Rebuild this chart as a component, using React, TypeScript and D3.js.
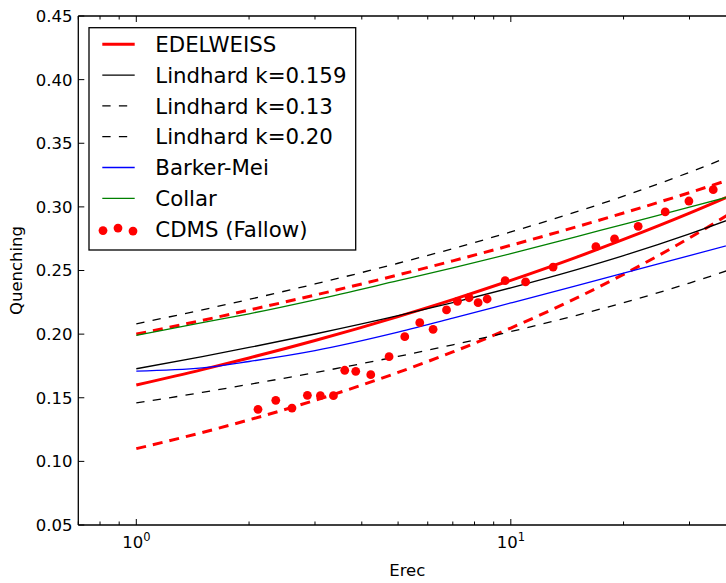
import React from "react";
import * as d3 from "d3";

// ---------- data ----------
const energies = [1, 1.5, 2, 3, 5, 7, 10, 15, 20, 30, 40];
const edelweiss = [0.16, 0.1721, 0.1813, 0.195, 0.2138, 0.2271, 0.2422, 0.2605, 0.2744, 0.2951, 0.3108];
const edelweissUpper = [0.2, 0.2108, 0.2189, 0.2307, 0.2465, 0.2576, 0.2698, 0.2844, 0.2952, 0.3112, 0.3231];
const edelweissLower = [0.11, 0.1227, 0.1326, 0.148, 0.1699, 0.186, 0.2048, 0.2285, 0.247, 0.2756, 0.2978];
const lindhard159 = [0.1728, 0.1823, 0.1895, 0.2001, 0.2145, 0.2248, 0.2364, 0.2507, 0.2617, 0.2788, 0.2921];
const lindhard13 = [0.1459, 0.1542, 0.1605, 0.1698, 0.1825, 0.1916, 0.202, 0.2148, 0.2247, 0.2401, 0.2523];
const lindhard20 = [0.2081, 0.2191, 0.2273, 0.2394, 0.2557, 0.2672, 0.2803, 0.2962, 0.3084, 0.3272, 0.3417];
const barkerMei = [0.171, 0.1735, 0.1785, 0.187, 0.2015, 0.2125, 0.2245, 0.2382, 0.248, 0.2617, 0.2715];
const collar = [0.199, 0.209, 0.216, 0.227, 0.242, 0.252, 0.2632, 0.2767, 0.2863, 0.2998, 0.3095];

const cdmsE = [2.113, 2.357, 2.604, 2.863, 3.101, 3.36, 3.602, 3.854, 4.227, 4.73, 5.21, 5.713, 6.201, 6.734, 7.203, 7.737, 8.178, 8.645, 9.656, 10.95, 12.97, 16.87, 18.92, 21.88, 25.84, 29.89, 34.71];
const cdmsQ = [0.1409, 0.148, 0.1419, 0.1519, 0.1516, 0.1516, 0.1716, 0.1708, 0.1681, 0.1823, 0.198, 0.209, 0.2038, 0.219, 0.2258, 0.2286, 0.2247, 0.2276, 0.242, 0.241, 0.2527, 0.2687, 0.2748, 0.2847, 0.296, 0.3046, 0.3135];

const yTicks = [0.05, 0.1, 0.15, 0.2, 0.25, 0.3, 0.35, 0.4, 0.45];
const xMajor = [1, 10];
const xMinor = [0.7, 0.8, 0.9, 2, 3, 4, 5, 6, 7, 8, 9, 20, 30, 40];
const legendLabels = ["EDELWEISS", "Lindhard k=0.159", "Lindhard k=0.13", "Lindhard k=0.20", "Barker-Mei", "Collar", "CDMS (Fallow)"];

// ---------- layout ----------
const W = 726;
const H = 583;
const left = 78.3;
const right = 736.3;
const top = 16;
const bottom = 525;
const font = "'DejaVu Sans', sans-serif";

export default function App() {
  const x = d3.scaleLog().domain([0.7, 40]).range([left, right]);
  const y = d3.scaleLinear().domain([0.05, 0.45]).range([bottom, top]);
  const line = d3
    .line<[number, number]>()
    .x((d) => x(d[0]))
    .y((d) => y(d[1]))
    .curve(d3.curveMonotoneX);
  const path = (vals: number[]) => line(energies.map((e, i) => [e, vals[i]] as [number, number])) || "";

  const series = [
    { vals: edelweiss, color: "#ff0000", w: 3, dash: "" },
    { vals: edelweissUpper, color: "#ff0000", w: 3, dash: "10,7" },
    { vals: edelweissLower, color: "#ff0000", w: 3, dash: "10,7" },
    { vals: lindhard159, color: "#000000", w: 1.3, dash: "" },
    { vals: lindhard13, color: "#000000", w: 1.3, dash: "8.3,8.3" },
    { vals: lindhard20, color: "#000000", w: 1.3, dash: "8.3,8.3" },
    { vals: barkerMei, color: "#0000ff", w: 1.3, dash: "" },
    { vals: collar, color: "#008000", w: 1.3, dash: "" },
  ];

  const legendStyles = [
    { color: "#ff0000", w: 3, dash: "" },
    { color: "#000000", w: 1.3, dash: "" },
    { color: "#000000", w: 1.3, dash: "8.3,8.3" },
    { color: "#000000", w: 1.3, dash: "8.3,8.3" },
    { color: "#0000ff", w: 1.3, dash: "" },
    { color: "#008000", w: 1.3, dash: "" },
  ];
  const legRowY = (i: number) => 44.3 + i * 30.8;
  const legDotOffsets = [1.5, -1, 2];

  return (
    <svg
      width={W}
      height={H}
      style={{ position: "absolute", left: 0, top: 0, background: "#fff" }}
      fontFamily={font}
    >
      <defs>
        <clipPath id="plotclip">
          <rect x={left} y={top} width={right - left} height={bottom - top} />
        </clipPath>
      </defs>
      <rect x={0} y={0} width={W} height={H} fill="#fff" />

      <g clipPath="url(#plotclip)">
        {series.map((s, i) => (
          <path
            key={i}
            d={path(s.vals)}
            fill="none"
            stroke={s.color}
            strokeWidth={s.w}
            strokeDasharray={s.dash || undefined}
          />
        ))}
        {cdmsE.map((e, i) => (
          <circle key={i} cx={x(e)} cy={y(cdmsQ[i])} r={4.4} fill="#ff0000" />
        ))}
      </g>

      {/* spines */}
      <g stroke="#000" strokeWidth={1.3} fill="none">
        <line x1={left} y1={top} x2={left} y2={bottom} />
        <line x1={left} y1={bottom} x2={W + 20} y2={bottom} />
        <line x1={left} y1={top} x2={W + 20} y2={top} />
      </g>

      {/* y ticks */}
      {yTicks.map((t) => (
        <g key={t}>
          <line x1={left} x2={left + 6} y1={y(t)} y2={y(t)} stroke="#000" strokeWidth={1} />
          <text x={72.5} y={y(t)} dy="0.36em" textAnchor="end" fontSize={16.5} fill="#000">
            {t.toFixed(2)}
          </text>
        </g>
      ))}

      {/* x ticks */}
      {xMajor.map((t) => (
        <g key={t}>
          <line x1={x(t)} x2={x(t)} y1={bottom} y2={bottom - 6} stroke="#000" strokeWidth={1} />
          <line x1={x(t)} x2={x(t)} y1={top} y2={top + 6} stroke="#000" strokeWidth={1} />
          <text x={x(t)} y={548} textAnchor="middle" fontSize={16.5} fill="#000">
            10
            <tspan fontSize={11.5} dy={-7}>
              {Math.round(Math.log10(t))}
            </tspan>
          </text>
        </g>
      ))}
      {xMinor.map((t) => (
        <g key={t}>
          <line x1={x(t)} x2={x(t)} y1={bottom} y2={bottom - 3.5} stroke="#000" strokeWidth={1} />
          <line x1={x(t)} x2={x(t)} y1={top} y2={top + 3.5} stroke="#000" strokeWidth={1} />
        </g>
      ))}

      {/* axis labels */}
      <text x={(left + right) / 2} y={576} textAnchor="middle" fontSize={16.5} fill="#000">
        Erec
      </text>
      <text
        transform={`translate(22, ${(top + bottom) / 2}) rotate(-90)`}
        textAnchor="middle"
        fontSize={16.5}
        fill="#000"
      >
        Quenching
      </text>

      {/* legend */}
      <rect x={89} y={27.7} width={266.7} height={222.3} fill="#fff" stroke="#000" strokeWidth={1.3} />
      {legendStyles.map((s, i) => (
        <line
          key={i}
          x1={102.3}
          x2={134.7}
          y1={legRowY(i)}
          y2={legRowY(i)}
          stroke={s.color}
          strokeWidth={s.w}
          strokeDasharray={s.dash || undefined}
        />
      ))}
      {[103, 118, 133].map((cx, i) => (
        <circle key={i} cx={cx} cy={legRowY(6) + legDotOffsets[i]} r={4.4} fill="#ff0000" />
      ))}
      {legendLabels.map((l, i) => (
        <text key={l} x={155.3} y={legRowY(i)} dy="0.36em" fontSize={21.3} fill="#000">
          {l}
        </text>
      ))}
    </svg>
  );
}
